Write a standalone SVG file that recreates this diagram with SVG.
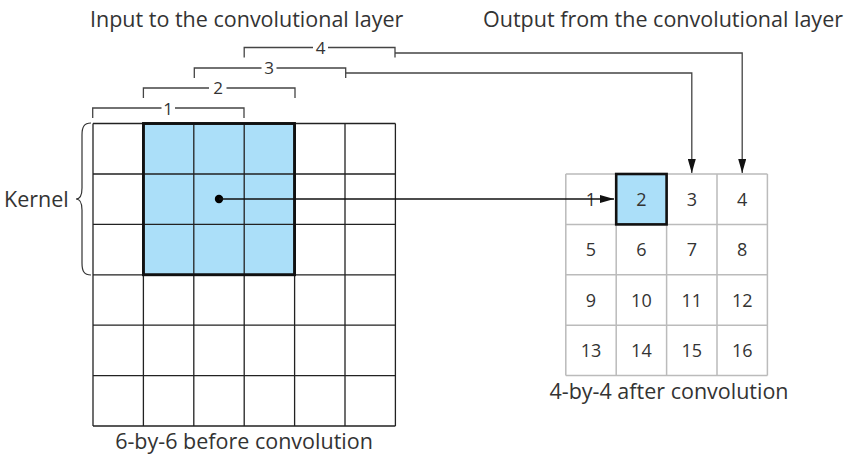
<svg xmlns="http://www.w3.org/2000/svg" width="849" height="455" viewBox="0 0 849 455">
<style>
text{font-family:"Open Sans","Liberation Sans",sans-serif;fill:#333}
.t{font-size:21.5px}
.n{font-size:18px;text-anchor:middle}
.b{font-size:17px;text-anchor:middle}
.g{stroke:#222;stroke-width:1.3;fill:none}
.og{stroke:#bbb;stroke-width:1.5;fill:none}
.k{fill:#abdff9;stroke:#111;stroke-width:2.6}
.c{stroke:#444;stroke-width:1.3;fill:none}
</style>
<defs>
<marker id="ah" markerWidth="14" markerHeight="8" refX="14" refY="4" orient="auto" markerUnits="userSpaceOnUse">
<path d="M0,0 L14,4 L0,8 Z" fill="#111"/>
</marker>
</defs>
<rect width="849" height="455" fill="#fff"/>
<text class="t" x="90" y="27">Input to the convolutional layer</text>
<text class="t" x="483" y="27">Output from the convolutional layer</text>
<g id="input">
<rect class="k" x="143.4" y="123.5" width="151.2" height="151.3"/>
<path class="g" d="M93,123.5H395.4M93,174H395.4M93,224.4H395.4M93,274.8H395.4M93,325.2H395.4M93,375.6H395.4M93,426H395.4M93,123.5V426M143.4,123.5V426M193.8,123.5V426M244.2,123.5V426M294.6,123.5V426M345,123.5V426M395.4,123.5V426"/>
<rect x="143.4" y="123.5" width="151.2" height="151.3" fill="none" stroke="#111" stroke-width="2.6"/>
<circle cx="219" cy="199" r="4.2" fill="#000"/>
<text class="t" x="244" y="449" text-anchor="middle">6-by-6 before convolution</text>
</g>
<g id="kernel">
<path d="M91,123 C84,123 82,127 82,135 L82,188 C82,195 80,199 76,199 C80,199 82,203 82,210 L82,263 C82,271 84,275 91,275" fill="none" stroke="#333" stroke-width="1.2"/>
<text class="t" x="4" y="206.5">Kernel</text>
</g>
<g id="output">
<rect x="616.2" y="174" width="50.4" height="50.4" fill="#abdff9"/>
<path class="og" d="M565.8,174H767.4M565.8,224.4H767.4M565.8,274.8H767.4M565.8,325.2H767.4M565.8,375.6H767.4M565.8,174V375.6M616.2,174V375.6M666.6,174V375.6M717,174V375.6M767.4,174V375.6"/>
<rect x="616.2" y="174" width="50.4" height="50.4" fill="none" stroke="#111" stroke-width="2.6"/>
<text class="n" x="591" y="205.5">1</text>
<text class="n" x="641.4" y="205.5">2</text>
<text class="n" x="691.8" y="205.5">3</text>
<text class="n" x="742.2" y="205.5">4</text>
<text class="n" x="591" y="256">5</text>
<text class="n" x="641.4" y="256">6</text>
<text class="n" x="691.8" y="256">7</text>
<text class="n" x="742.2" y="256">8</text>
<text class="n" x="591" y="306.5">9</text>
<text class="n" x="641.4" y="306.5">10</text>
<text class="n" x="691.8" y="306.5">11</text>
<text class="n" x="742.2" y="306.5">12</text>
<text class="n" x="591" y="357">13</text>
<text class="n" x="641.4" y="357">14</text>
<text class="n" x="691.8" y="357">15</text>
<text class="n" x="742.2" y="357">16</text>
<text class="t" x="669" y="399" text-anchor="middle">4-by-4 after convolution</text>
</g>
<g id="brackets">
<path class="c" d="M92.7,118V108H161.5M175,108H244V118"/>
<text class="b" x="168" y="114.5">1</text>
<path class="c" d="M143.4,98V88H209M226.5,88H295V98"/>
<text class="b" x="218" y="94">2</text>
<path class="c" d="M194.3,78V68H261.5M276.5,68H345.7V78"/>
<text class="b" x="269" y="74">3</text>
<path class="c" d="M244.2,57.5V47.5H313M328,47.5H395V57.5"/>
<text class="b" x="320.5" y="54">4</text>
</g>
<g id="connectors">
<line x1="219" y1="199" x2="614" y2="199" stroke="#111" stroke-width="1.3" marker-end="url(#ah)"/>
<path d="M345.7,73H691.8V173" fill="none" stroke="#444" stroke-width="1.3" marker-end="url(#ah)"/>
<path d="M395,53H742.2V173" fill="none" stroke="#444" stroke-width="1.3" marker-end="url(#ah)"/>
</g>
</svg>
